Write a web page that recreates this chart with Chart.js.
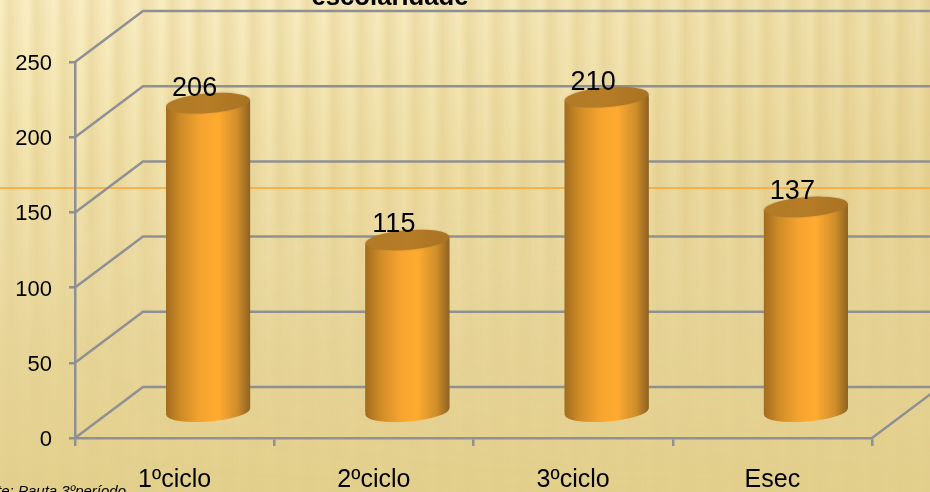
<!DOCTYPE html>
<html><head><meta charset="utf-8">
<script src="https://cdn.jsdelivr.net/npm/chart.js@4"></script>
<style>
html,body{margin:0;padding:0;width:930px;height:492px;overflow:hidden}
#bg{position:absolute;left:0;top:0;width:930px;height:492px;background:linear-gradient(to bottom,#faefc5 0,#f5e7b4 120px,#efdfa8 230px,#e8d69a 340px,#e3d08d 492px)}
#dk{position:absolute;left:0;top:0;width:930px;height:492px;
background:linear-gradient(to right,rgba(214,188,110,0) 0,rgba(214,188,110,.08) 400px,rgba(214,188,110,.3) 930px);
-webkit-mask-image:linear-gradient(to bottom,#000 0,#000 200px,rgba(0,0,0,.3) 380px,rgba(0,0,0,0) 492px)}
#st{position:absolute;left:0;top:0;width:930px;height:492px;
background:repeating-linear-gradient(to right,rgba(205,175,95,0) 0,rgba(205,175,95,.24) 10px,rgba(205,175,95,.1) 19px,rgba(205,175,95,0) 27px);
-webkit-mask-image:linear-gradient(to bottom,#000 0,#000 170px,rgba(0,0,0,.4) 290px,rgba(0,0,0,.1) 400px,rgba(0,0,0,.08) 492px)}
canvas{position:absolute;left:0;top:0}
</style></head><body>
<div id="bg"></div><div id="dk"></div><div id="st"></div>
<canvas id="c" width="930" height="492"></canvas>
<script>
const categories = ['1ºciclo','2ºciclo','3ºciclo','Esec'];
const values = [206,115,210,137];
const yTicks = [0,50,100,150,200,250];
const titleText = 'escolaridade';
const sourceText = 'Fonte: Pauta 3ºperíodo';

const DX = 68, SHIFT = 33.5, DY = 25, BACK = 51, BARW = 84, RY = 9.8, TILT = -0.08;
const GRID = '#8f9094';
const FONT = '"Liberation Sans", Arial, sans-serif';

function barGradient(c, cx){
  const g = c.createLinearGradient(cx-BARW/2,0,cx+BARW/2,0);
  g.addColorStop(0,'#a26c1f');g.addColorStop(.18,'#d08c27');g.addColorStop(.42,'#f6a42f');
  g.addColorStop(.62,'#ffab31');g.addColorStop(.85,'#cf8d2a');g.addColorStop(1,'#8f6222');
  return g;
}
function ell(c,x,y){c.ellipse(x,y,BARW/2,RY,TILT,0,Math.PI*2);}

const scene = {
  id:'scene',
  beforeDraw(ch){
    const c=ch.ctx,y=ch.scales.y,a=ch.chartArea;
    c.save();
    c.strokeStyle='#f8a532';c.lineWidth=1.4;c.beginPath();c.moveTo(0,188);c.lineTo(930,188);c.stroke();
    c.strokeStyle=GRID;c.lineWidth=2.5;
    yTicks.forEach(v=>{
      const p=y.getPixelForValue(v);
      c.beginPath();c.moveTo(a.left,p);c.lineTo(a.left+DX,p-BACK);c.lineTo(a.right+DX,p-BACK);
      c.stroke();
    });
    const p0=y.getPixelForValue(0);
    c.beginPath();c.moveTo(a.right,p0);c.lineTo(a.right+DX,p0-BACK);c.stroke();
    c.restore();
  },
  beforeDatasetDraw(ch){
    const c=ch.ctx;
    c.save();
    const m=ch.getDatasetMeta(0);
    const path=new Path2D();
    const lean=BARW/2*Math.sin(-TILT);
    m.data.forEach(el=>{
      const x=el.x+SHIFT,b=el.base-DY,t=el.y-DY;
      c.fillStyle=barGradient(c,x);
      c.beginPath();ell(c,x,b);c.fill();
      const wall=new Path2D();
      wall.moveTo(x-BARW/2,t+lean);wall.lineTo(x+BARW/2,t-lean);
      wall.lineTo(x+BARW/2,b-lean);wall.lineTo(x-BARW/2,b+lean);wall.closePath();
      c.fill(wall);
      path.addPath(wall);
    });
    c.clip(path);
    c.translate(SHIFT,-DY);
  },
  afterDatasetDraw(ch){
    const c=ch.ctx;
    c.restore();
    const m=ch.getDatasetMeta(0);
    c.save();
    m.data.forEach(el=>{
      const x=el.x+SHIFT,t=el.y-DY;
      const g=c.createLinearGradient(x-BARW/2,0,x+BARW/2,0);
      g.addColorStop(0,'#b27a27');g.addColorStop(.5,'#b67c26');g.addColorStop(1,'#a97323');
      c.shadowColor='rgba(150,105,35,.45)';c.shadowBlur=2;
      c.fillStyle=g;c.beginPath();ell(c,x,t);c.fill();
    });
    c.restore();
  },
  afterDraw(ch){
    const c=ch.ctx,m=ch.getDatasetMeta(0);
    c.save();
    c.fillStyle='#000';c.textAlign='center';c.textBaseline='middle';
    c.font='27px '+FONT;
    m.data.forEach((el,i)=>c.fillText(String(values[i]),el.x+20,el.y-40));
    c.font='bold 25.7px '+FONT;c.textBaseline='alphabetic';
    c.fillText(titleText,390,5);
    c.font='italic 15px '+FONT;c.textAlign='right';
    c.fillText(sourceText,126,496);
    c.restore();
  }
};

new Chart(document.getElementById('c'),{
  type:'bar',
  data:{labels:categories,datasets:[{
    data:values,
    barThickness:BARW,
    backgroundColor:ctx=>{
      const ch=ctx.chart;
      if(!ch.chartArea||ctx.dataIndex===undefined) return '#f6a42f';
      return barGradient(ch.ctx,ch.scales.x.getPixelForValue(ctx.dataIndex));
    },
    borderWidth:0
  }]},
  options:{
    responsive:false,animation:false,
    layout:{padding:{top:62,right:58,bottom:0,left:0}},
    plugins:{legend:{display:false},title:{display:false},tooltip:{enabled:false}},
    scales:{
      x:{
        afterFit:s=>{s.height=54;},
        grid:{drawOnChartArea:false,color:GRID,lineWidth:2.5,tickLength:8},
        border:{color:GRID,width:2.5},
        ticks:{color:'#000',font:{family:FONT,size:25},padding:19,maxRotation:0}
      },
      y:{
        min:0,max:250,
        afterFit:s=>{s.width=75;},
        grid:{drawOnChartArea:false,color:GRID,lineWidth:2.5,tickLength:6},
        border:{color:GRID,width:2.5},
        ticks:{color:'#000',font:{family:FONT,size:22},padding:17,stepSize:50,labelOffset:2}
      }
    }
  },
  plugins:[scene]
});
</script>
</body></html>
